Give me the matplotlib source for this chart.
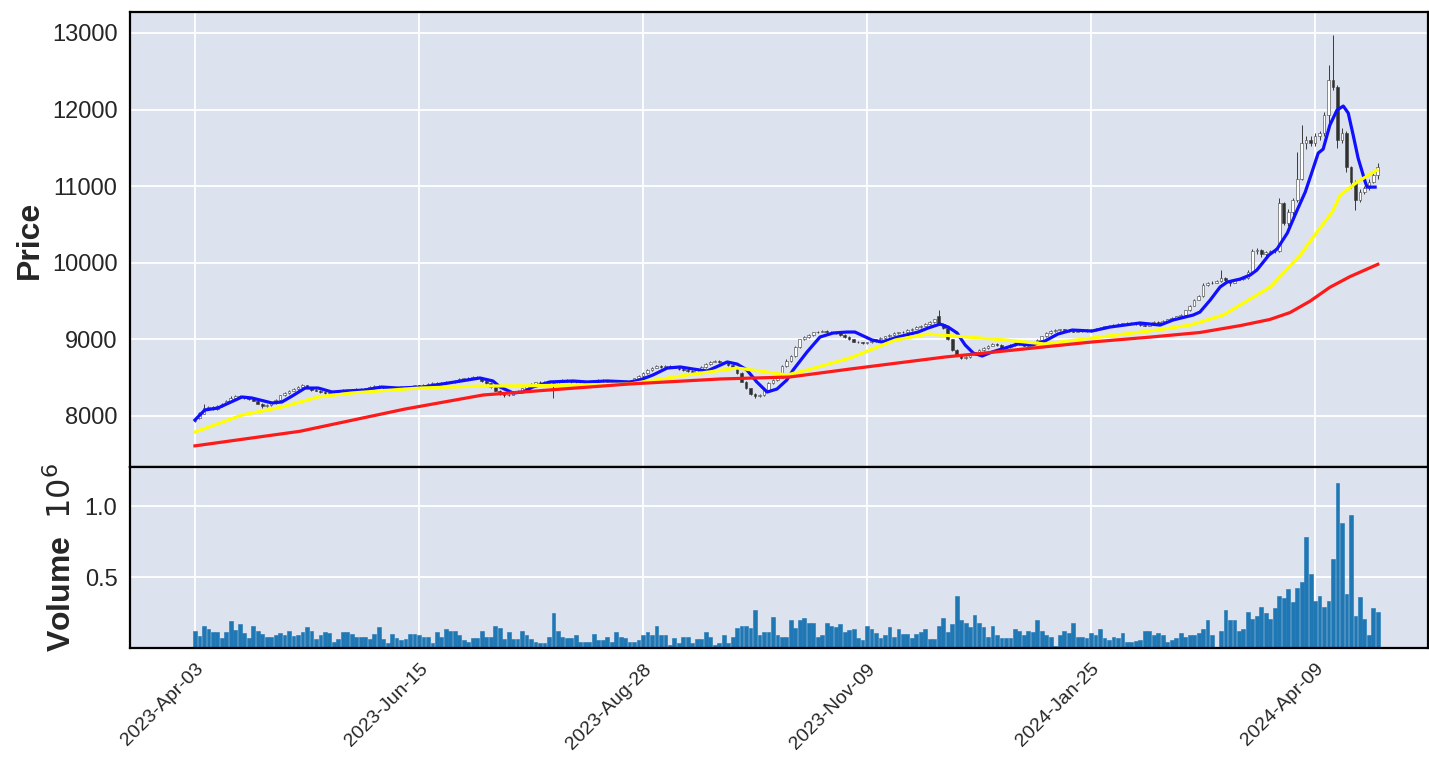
import numpy as np
import matplotlib
matplotlib.use("Agg")
import matplotlib.pyplot as plt

plt.rcParams['font.family'] = ['Liberation Sans', 'DejaVu Sans']

# daily candles, one per trading day (index 0 = 2023-Apr-03)
opens = [
    7930, 7970, 8030, 8100, 8120, 8090, 8130, 8170, 8200, 8240,
    8260, 8250, 8230, 8220, 8200, 8160, 8130, 8140, 8170, 8210,
    8270, 8300, 8330, 8350, 8380, 8400, 8370, 8340, 8330, 8310,
    8300, 8310, 8320, 8330, 8340, 8330, 8340, 8350, 8340, 8360,
    8380, 8390, 8370, 8360, 8370, 8360, 8370, 8380, 8370, 8380,
    8400, 8390, 8410, 8420, 8430, 8420, 8430, 8450, 8440, 8460,
    8480, 8490, 8500, 8510, 8490, 8460, 8430, 8380, 8330, 8290,
    8270, 8280, 8310, 8330, 8360, 8390, 8420, 8440, 8450, 8440,
    8430, 8400, 8450, 8470, 8460, 8440, 8450, 8440, 8430, 8450,
    8460, 8470, 8460, 8450, 8440, 8450, 8430, 8440, 8460, 8490,
    8520, 8560, 8600, 8630, 8650, 8640, 8650, 8640, 8630, 8610,
    8600, 8590, 8580, 8600, 8640, 8680, 8710, 8720, 8700, 8690,
    8660, 8620, 8560, 8450, 8360, 8290, 8260, 8270, 8340, 8430,
    8470, 8500, 8650, 8720, 8780, 8900, 9000, 9030, 9060, 9090,
    9100, 9110, 9100, 9090, 9080, 9060, 9030, 9000, 8970, 8960,
    8950, 8960, 8980, 9000, 9020, 9040, 9060, 9080, 9090, 9100,
    9120, 9140, 9160, 9180, 9200, 9230, 9300, 9200, 9150, 9000,
    8860, 8790, 8760, 8770, 8800, 8830, 8860, 8890, 8920, 8940,
    8930, 8880, 8900, 8930, 8950, 8940, 8920, 8930, 8950, 8990,
    9040, 9080, 9110, 9120, 9130, 9120, 9110, 9100, 9110, 9120,
    9110, 9120, 9140, 9150, 9170, 9180, 9190, 9200, 9210, 9220,
    9210, 9200, 9190, 9180, 9200, 9230, 9220, 9240, 9260, 9280,
    9300, 9320, 9380, 9440, 9520, 9560, 9710, 9730, 9740, 9760,
    9800, 9770, 9740, 9780, 9790, 9800, 9880, 10150, 10170, 10120,
    10140, 10150, 10160, 10780, 10520, 10660, 10820, 11100, 11560, 11600,
    11560, 11650, 11690, 11930, 12380, 12300, 11600, 11700, 11250, 11050,
    10820, 10930, 10970, 11060, 11150,
]
highs = [
    7980, 8050, 8150, 8130, 8130, 8140, 8170, 8210, 8260, 8280,
    8270, 8260, 8240, 8230, 8210, 8170, 8150, 8180, 8220, 8280,
    8310, 8340, 8360, 8390, 8420, 8410, 8380, 8350, 8340, 8320,
    8320, 8330, 8340, 8350, 8350, 8350, 8360, 8360, 8370, 8390,
    8400, 8400, 8380, 8380, 8380, 8380, 8390, 8390, 8390, 8410,
    8410, 8420, 8430, 8440, 8440, 8440, 8460, 8460, 8470, 8490,
    8500, 8510, 8520, 8520, 8500, 8470, 8440, 8390, 8340, 8300,
    8290, 8320, 8340, 8370, 8400, 8430, 8450, 8460, 8460, 8450,
    8440, 8460, 8480, 8480, 8470, 8460, 8460, 8450, 8460, 8470,
    8480, 8480, 8470, 8460, 8460, 8460, 8450, 8470, 8500, 8530,
    8570, 8610, 8640, 8660, 8660, 8660, 8660, 8650, 8640, 8620,
    8610, 8600, 8610, 8650, 8690, 8720, 8730, 8730, 8710, 8700,
    8670, 8630, 8570, 8460, 8370, 8300, 8290, 8350, 8440, 8480,
    8510, 8670, 8740, 8800, 8920, 9010, 9050, 9070, 9100, 9110,
    9120, 9120, 9110, 9100, 9090, 9070, 9040, 9010, 8980, 8970,
    8970, 8990, 9010, 9030, 9050, 9070, 9090, 9100, 9110, 9130,
    9150, 9170, 9190, 9210, 9240, 9270, 9380, 9210, 9160, 9010,
    8870, 8800, 8780, 8810, 8840, 8870, 8900, 8930, 8950, 8950,
    8940, 8910, 8940, 8960, 8960, 8950, 8940, 8960, 9000, 9050,
    9090, 9120, 9130, 9140, 9140, 9130, 9120, 9120, 9130, 9130,
    9130, 9150, 9160, 9180, 9190, 9200, 9210, 9220, 9230, 9230,
    9220, 9210, 9200, 9210, 9240, 9240, 9250, 9270, 9290, 9310,
    9330, 9390, 9450, 9530, 9580, 9730, 9750, 9760, 9780, 9900,
    9810, 9780, 9790, 9800, 9810, 9900, 10180, 10190, 10180, 10160,
    10170, 10190, 10845, 10800, 10700, 10850, 11450, 11800, 11650, 11660,
    11700, 11720, 11970, 12580, 12972, 12320, 11760, 11720, 11260, 11080,
    10960, 11000, 11100, 11180, 11300,
]
lows = [
    7920, 7960, 8020, 8090, 8080, 8080, 8120, 8160, 8190, 8230,
    8240, 8220, 8210, 8190, 8150, 8110, 8120, 8130, 8160, 8200,
    8260, 8290, 8320, 8340, 8370, 8360, 8330, 8320, 8300, 8290,
    8290, 8300, 8310, 8320, 8320, 8320, 8330, 8330, 8330, 8350,
    8370, 8360, 8350, 8350, 8350, 8350, 8360, 8360, 8360, 8370,
    8380, 8380, 8400, 8410, 8410, 8410, 8420, 8430, 8430, 8450,
    8470, 8480, 8490, 8480, 8450, 8420, 8370, 8320, 8280, 8250,
    8260, 8270, 8300, 8320, 8350, 8380, 8410, 8430, 8430, 8420,
    8230, 8390, 8440, 8450, 8430, 8430, 8430, 8420, 8420, 8440,
    8450, 8450, 8440, 8430, 8430, 8420, 8420, 8430, 8450, 8480,
    8510, 8550, 8590, 8620, 8630, 8630, 8630, 8620, 8600, 8590,
    8580, 8570, 8570, 8590, 8630, 8670, 8700, 8690, 8680, 8650,
    8610, 8550, 8440, 8350, 8280, 8240, 8250, 8260, 8330, 8420,
    8460, 8490, 8640, 8710, 8770, 8890, 8990, 9020, 9050, 9080,
    9090, 9090, 9080, 9070, 9050, 9020, 8990, 8960, 8950, 8940,
    8940, 8950, 8970, 8990, 9010, 9030, 9050, 9070, 9080, 9090,
    9110, 9130, 9150, 9170, 9190, 9220, 9190, 9140, 8990, 8850,
    8780, 8740, 8750, 8760, 8790, 8820, 8850, 8880, 8910, 8920,
    8870, 8870, 8890, 8920, 8930, 8910, 8910, 8920, 8940, 8980,
    9030, 9070, 9100, 9110, 9110, 9100, 9090, 9090, 9100, 9100,
    9100, 9110, 9130, 9140, 9160, 9170, 9180, 9190, 9200, 9200,
    9190, 9180, 9170, 9170, 9190, 9210, 9210, 9230, 9250, 9270,
    9290, 9310, 9370, 9430, 9510, 9550, 9700, 9720, 9730, 9750,
    9760, 9700, 9730, 9770, 9780, 9790, 9870, 10110, 10080, 10090,
    10110, 10130, 10140, 10490, 10480, 10620, 10800, 11080, 11480, 11520,
    11530, 11600, 11660, 11800, 12250, 11500, 11560, 11180, 10980, 10690,
    10800, 10900, 10950, 11040, 11100,
]
closes = [
    7960, 8040, 8100, 8120, 8090, 8130, 8160, 8200, 8240, 8260,
    8250, 8230, 8220, 8200, 8160, 8130, 8140, 8170, 8210, 8270,
    8300, 8330, 8350, 8380, 8400, 8370, 8340, 8330, 8310, 8300,
    8310, 8320, 8330, 8340, 8330, 8340, 8350, 8340, 8360, 8380,
    8390, 8370, 8360, 8370, 8360, 8370, 8380, 8370, 8380, 8400,
    8390, 8410, 8420, 8430, 8420, 8430, 8450, 8440, 8460, 8480,
    8490, 8500, 8510, 8490, 8460, 8430, 8380, 8330, 8290, 8270,
    8280, 8310, 8330, 8360, 8390, 8420, 8440, 8450, 8440, 8430,
    8400, 8450, 8470, 8460, 8440, 8450, 8440, 8430, 8450, 8460,
    8470, 8460, 8450, 8440, 8450, 8430, 8440, 8460, 8490, 8520,
    8560, 8600, 8630, 8650, 8640, 8650, 8640, 8630, 8610, 8600,
    8590, 8580, 8600, 8640, 8680, 8710, 8720, 8700, 8690, 8660,
    8620, 8560, 8450, 8360, 8290, 8260, 8270, 8340, 8430, 8470,
    8500, 8650, 8720, 8780, 8900, 9000, 9030, 9060, 9090, 9100,
    9110, 9100, 9090, 9080, 9060, 9030, 9000, 8970, 8960, 8950,
    8960, 8980, 9000, 9020, 9040, 9060, 9080, 9090, 9100, 9120,
    9140, 9160, 9180, 9200, 9230, 9260, 9200, 9150, 9000, 8860,
    8790, 8760, 8770, 8800, 8830, 8860, 8890, 8920, 8940, 8930,
    8880, 8900, 8930, 8950, 8940, 8920, 8930, 8950, 8990, 9040,
    9080, 9110, 9120, 9130, 9120, 9110, 9100, 9110, 9120, 9110,
    9120, 9140, 9150, 9170, 9180, 9190, 9200, 9210, 9220, 9210,
    9200, 9190, 9180, 9200, 9230, 9220, 9240, 9260, 9280, 9300,
    9320, 9380, 9440, 9520, 9560, 9710, 9730, 9740, 9760, 9800,
    9770, 9740, 9780, 9790, 9800, 9880, 10150, 10170, 10120, 10140,
    10150, 10160, 10780, 10520, 10660, 10820, 11100, 11560, 11600, 11560,
    11650, 11690, 11930, 12380, 12300, 11600, 11700, 11250, 11050, 10820,
    10930, 10970, 11060, 11150, 11250,
]
# volume in thousands
volume_k = [
    122, 87, 157, 136, 113, 113, 68, 110, 190, 127,
    167, 103, 68, 157, 122, 100, 80, 80, 94, 108,
    89, 122, 82, 90, 110, 146, 122, 66, 89, 110,
    103, 45, 66, 110, 110, 100, 80, 80, 80, 61,
    100, 146, 66, 33, 100, 68, 59, 66, 99, 99,
    90, 80, 80, 33, 110, 80, 134, 122, 122, 90,
    56, 45, 68, 68, 122, 77, 77, 157, 138, 66,
    110, 66, 66, 122, 90, 66, 45, 33, 33, 80,
    244, 122, 80, 68, 68, 90, 45, 45, 45, 100,
    56, 56, 80, 45, 110, 80, 68, 45, 45, 56,
    89, 110, 89, 155, 89, 89, 21, 68, 33, 80,
    80, 33, 66, 66, 110, 80, 21, 33, 89, 33,
    80, 138, 155, 155, 138, 268, 89, 110, 110, 220,
    89, 80, 80, 197, 138, 197, 213, 178, 178, 80,
    89, 178, 155, 150, 167, 110, 127, 134, 68, 56,
    155, 134, 103, 68, 89, 146, 80, 134, 100, 100,
    68, 100, 110, 136, 66, 66, 155, 213, 110, 167,
    366, 197, 178, 146, 232, 178, 146, 80, 155, 92,
    68, 68, 68, 134, 122, 92, 122, 115, 197, 122,
    92, 80, 15, 92, 122, 103, 178, 80, 80, 68,
    103, 92, 134, 68, 56, 80, 68, 103, 45, 45,
    52, 56, 122, 122, 92, 103, 92, 45, 56, 68,
    103, 80, 92, 92, 103, 131, 197, 92, 3, 122,
    268, 197, 197, 122, 134, 256, 202, 225, 291, 244,
    202, 279, 368, 350, 413, 326, 425, 467, 779, 521,
    333, 368, 291, 333, 624, 1160, 878, 378, 937, 225,
    357, 202, 92, 279, 256,
]

# moving averages (bar index, price)
fast_idx = [0, 2.2, 5.1, 10.5, 12.7, 17.2, 19.4, 21.7, 24.6, 27.5, 30.6, 33.5, 37.9,
            41.7, 45.3, 50.9, 63.6, 66.5, 68.1, 71, 73.2, 75.4, 79.2, 84.4, 87.5, 92,
            97.1, 99.3, 102.2, 105.4, 108.3, 111.2, 114.3, 118.8, 121, 123.2, 125.4,
            127.7, 129.9, 132.1, 133.5, 136.6, 139.5, 142.4, 145.5, 147.3, 151.1,
            153.3, 156.9, 161.4, 163.6, 166.3, 168.1, 170.1, 171.9, 173.7, 175.7,
            177.9, 180.8, 183.7, 186.8, 189.7, 192.6, 195.8, 200.2, 204.2, 210.9,
            215.4, 218.3, 222.8, 224.3, 226.6, 228.8, 230.4, 233.3, 235.5, 237,
            239.7, 241.5, 243.8, 246, 247.8, 249.3, 250.7, 251.8, 253.3, 254.9,
            256.3, 257.4, 258.5, 259.6, 261.2, 261.6, 263.4]
fast_val = [7948, 8078, 8104, 8248, 8235, 8170, 8183, 8261, 8365, 8365, 8313, 8326, 8339,
            8378, 8365, 8378, 8496, 8457, 8378, 8300, 8313, 8378, 8444, 8457, 8444, 8457,
            8444, 8470, 8535, 8626, 8640, 8613, 8587, 8705, 8678, 8600, 8444,
            8313, 8352, 8470, 8600, 8835, 9031, 9083, 9096, 9096, 8992,
            8966, 9031, 9096, 9148, 9200, 9161, 9083, 8927, 8822, 8783,
            8835, 8887, 8940, 8927, 8979, 9070, 9122, 9109, 9161, 9214,
            9187, 9253, 9318, 9357, 9514, 9684, 9749, 9788, 9840, 9905,
            10101, 10179, 10388, 10688, 10923, 11184, 11432, 11484, 11798, 11994,
            12046, 11954, 11667, 11367, 11054, 10988, 10988]
mid_idx = [0, 10.5, 19.4, 27.5, 35, 46.9, 50.2, 63.6, 74.8, 86, 97.1, 109.8, 121, 126.1,
           132.1, 136.6, 146.2, 156.3, 163.6, 169.6, 180.8, 189.7, 200.2, 214.7, 222.1,
           229.5, 240, 242.9, 246.7, 250.4, 253.8, 255.6, 259.4, 263.8]
mid_val = [7791, 8013, 8117, 8248, 8300, 8352, 8365, 8390, 8395, 8405, 8418, 8535, 8626, 8587,
           8535, 8600, 8757, 8992, 9070, 9044, 8992, 8940, 9018, 9122, 9187,
           9318, 9684, 9866, 10101, 10401, 10662, 10884, 11054, 11210]
slow_idx = [0, 23.4, 46.9, 64.3, 79.2, 97.1, 117.2, 132.8, 146.2, 167.4, 176.3, 200.2,
            213.2, 224.3, 233.3, 239.9, 244.4, 248.9, 253.3, 257.8, 264]
slow_val = [7610, 7800, 8091, 8274, 8340, 8418, 8483, 8509, 8613, 8770, 8822, 8966,
            9030, 9090, 9180, 9260, 9350, 9500, 9680, 9820, 9980]

tick_pos = [0, 50, 100, 150, 200, 250]
tick_labels = ['2023-Apr-03', '2023-Jun-15', '2023-Aug-28', '2023-Nov-09',
               '2024-Jan-25', '2024-Apr-09']

o = np.array(opens); h = np.array(highs); l = np.array(lows); c = np.array(closes)
x = np.arange(len(c))
vol = np.array(volume_k) * 1e3

bg = '#DCE3EF'
W, H = 1429, 777
fig = plt.figure(figsize=(W / 100, H / 100), dpi=100)
ax1 = fig.add_axes([130 / W, 1 - 467 / H, 1298 / W, 455 / H])
ax2 = fig.add_axes([130 / W, 1 - 648 / H, 1298 / W, 181 / H], sharex=ax1)

for ax in (ax1, ax2):
    ax.set_facecolor(bg)
    ax.grid(True, color='white', linewidth=1.3)
    ax.set_axisbelow(True)
    for s in ax.spines.values():
        s.set_color('black')
        s.set_linewidth(1.6)
    ax.tick_params(length=0, pad=9, labelsize=17, colors='#262626')

# candles
up = c >= o
bottoms = np.minimum(o, c)
heights = np.maximum(np.abs(c - o), 6)
ax1.vlines(x, l, h, color='#3a3a3a', linewidth=0.7, zorder=2)
ax1.bar(x, heights, bottom=bottoms, width=0.6,
        color=np.where(up, 'white', '#303030'), edgecolor='#3a3a3a', linewidth=0.4, zorder=2)

ax1.plot(fast_idx, fast_val, color='#1010ff', linewidth=2.3, zorder=3)
ax1.plot(mid_idx, mid_val, color='#ffff00', linewidth=2.3, zorder=3)
ax1.plot(slow_idx, slow_val, color='#ff1a1a', linewidth=2.3, zorder=3)

ax1.set_ylim(7334, 13274)
ax1.set_yticks([8000, 9000, 10000, 11000, 12000, 13000])
ax1.set_ylabel('Price', fontsize=23, fontweight='bold', labelpad=5, color='#262626')
plt.setp(ax1.get_xticklabels(), visible=False)

ax2.bar(x, vol / 1e6, width=0.85, color='#1f77b4', edgecolor='#1f77b4', linewidth=0.4)
ax2.set_ylim(0, 1.275)
ax2.set_yticks([0.5, 1.0])
ax2.set_yticklabels(['0.5', '1.0'])
ax2.set_ylabel('Volume  $10^{6}$', fontsize=23, fontweight='bold', labelpad=5, color='#262626')

ax2.set_xlim(-14.5, 275.2)
ax2.set_xticks(tick_pos)
ax2.set_xticklabels(tick_labels, rotation=45, ha='right', rotation_mode='anchor')
ax2.tick_params(axis='x', labelsize=14)

fig.savefig('out.png', dpi=100, facecolor='white')
